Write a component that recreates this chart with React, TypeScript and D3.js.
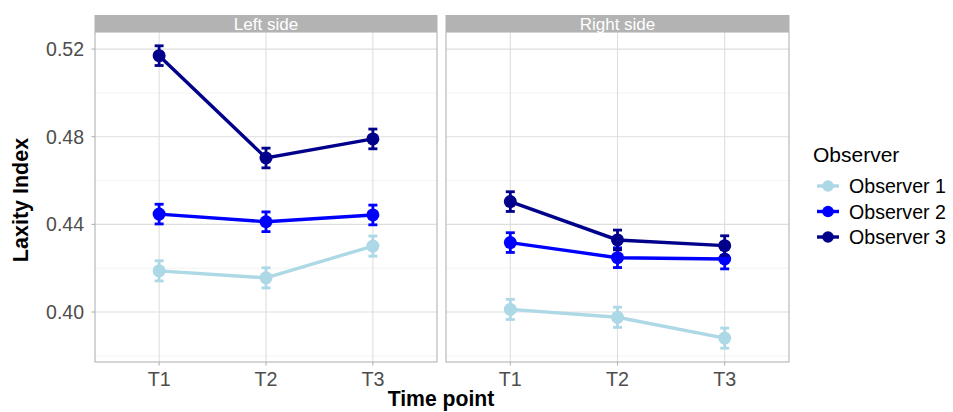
import React from 'react';
import * as d3 from 'd3';

const width = 953;
const height = 412;
const font = '"Liberation Sans", Arial, Helvetica, sans-serif';

const sides = ['Left side', 'Right side'];
const timePoints = ['T1', 'T2', 'T3'];
const observers = ['Observer 1', 'Observer 2', 'Observer 3'];
const colors = ['#ADD8E6', '#0000FF', '#00008B'];
const yTicks = [0.40, 0.44, 0.48, 0.52];
const yMinor = [0.38, 0.42, 0.46, 0.50];

// mean per observer, per time point
const leftMeans = [
  [0.4188, 0.4156, 0.4301],
  [0.4447, 0.4412, 0.4443],
  [0.517, 0.4703, 0.479],
];
const rightMeans = [
  [0.4012, 0.3976, 0.3881],
  [0.4317, 0.4248, 0.4242],
  [0.4504, 0.4329, 0.4303],
];
const leftSE = [
  [0.0046, 0.0046, 0.0046],
  [0.0045, 0.0045, 0.0045],
  [0.0045, 0.0045, 0.0045],
];
const rightSE = [
  [0.0046, 0.0046, 0.0046],
  [0.0045, 0.0045, 0.0045],
  [0.0045, 0.0045, 0.0045],
];

const panels = [
  { x0: 95, x1: 437, means: leftMeans, se: leftSE },
  { x0: 446, x1: 789, means: rightMeans, se: rightSE },
];
const stripTop = 15;
const panelTop = 32;
const panelBottom = 362;

const yScale = d3.scaleLinear().domain([0.3772, 0.5278]).range([panelBottom, panelTop]);

export default function App() {
  return (
    <svg width={width} height={height} style={{ display: 'block', position: 'absolute', left: 0, top: 0 }} fontFamily={font}>
      <rect width={width} height={height} fill="#fff" />
      {panels.map((p, pi) => {
        const xScale = d3.scalePoint<string>().domain(timePoints).range([p.x0, p.x1]).padding(0.6);
        const line = d3.line<number>().x((_, i) => xScale(timePoints[i]) as number).y(d => yScale(d));
        return (
          <g key={pi}>
            {yMinor.map(v => (
              <line key={'m' + v} x1={p.x0} x2={p.x1} y1={yScale(v)} y2={yScale(v)} stroke="#ebebeb" strokeWidth={0.6} />
            ))}
            {yTicks.map(v => (
              <line key={'M' + v} x1={p.x0} x2={p.x1} y1={yScale(v)} y2={yScale(v)} stroke="#dedede" strokeWidth={1.1} />
            ))}
            {timePoints.map(t => (
              <line key={t} x1={xScale(t)} x2={xScale(t)} y1={panelTop} y2={panelBottom} stroke="#dedede" strokeWidth={1.1} />
            ))}
            <rect x={p.x0} y={panelTop} width={p.x1 - p.x0} height={panelBottom - panelTop} fill="none" stroke="#b3b3b3" strokeWidth={1.1} />
            <rect x={p.x0 - 0.5} y={stripTop} width={p.x1 - p.x0 + 1} height={panelTop - stripTop} fill="#b3b3b3" />
            <text x={(p.x0 + p.x1) / 2} y={30} textAnchor="middle" fill="#fff" fontSize={17}>{sides[pi]}</text>
            {timePoints.map(t => (
              <g key={'x' + t}>
                <line x1={xScale(t)} x2={xScale(t)} y1={panelBottom} y2={panelBottom + 3.5} stroke="#b3b3b3" strokeWidth={1.1} />
                <text x={xScale(t)} y={386} textAnchor="middle" fill="#4d4d4d" fontSize={19.7}>{t}</text>
              </g>
            ))}
            {p.means.map((series, oi) => (
              <g key={oi}>
                <path d={line(series) ?? ''} fill="none" stroke={colors[oi]} strokeWidth={3.4} />
                {series.map((v, i) => {
                  const x = xScale(timePoints[i]) as number;
                  const e = p.se[oi][i];
                  return (
                    <g key={i}>
                      <line x1={x} x2={x} y1={yScale(v - e)} y2={yScale(v + e)} stroke={colors[oi]} strokeWidth={2.8} />
                      <line x1={x - 4.5} x2={x + 4.5} y1={yScale(v - e)} y2={yScale(v - e)} stroke={colors[oi]} strokeWidth={2.8} />
                      <line x1={x - 4.5} x2={x + 4.5} y1={yScale(v + e)} y2={yScale(v + e)} stroke={colors[oi]} strokeWidth={2.8} />
                      <circle cx={x} cy={yScale(v)} r={6.5} fill={colors[oi]} />
                    </g>
                  );
                })}
              </g>
            ))}
          </g>
        );
      })}
      {yTicks.map(v => (
        <g key={v}>
          <line x1={91.5} x2={95} y1={yScale(v)} y2={yScale(v)} stroke="#b3b3b3" strokeWidth={1.1} />
          <text x={84} y={yScale(v) + 7} textAnchor="end" fill="#4d4d4d" fontSize={19.5}>{v.toFixed(2)}</text>
        </g>
      ))}
      <text transform={`translate(28, ${(panelTop + panelBottom) / 2 + 3}) rotate(-90)`} textAnchor="middle" fontWeight="bold" fontSize={21.5} fill="#000">Laxity Index</text>
      <text x={441} y={406} textAnchor="middle" fontWeight="bold" fontSize={21.2} fill="#000">Time point</text>
      <g>
        <text x={813} y={162} fontSize={21} fill="#000">Observer</text>
        {observers.map((o, i) => {
          const y = 186 + i * 25.5;
          return (
            <g key={o}>
              <line x1={817} x2={839} y1={y} y2={y} stroke={colors[i]} strokeWidth={3.4} />
              <line x1={828} x2={828} y1={y - 4.5} y2={y + 4.5} stroke={colors[i]} strokeWidth={2.8} />
              <circle cx={828} cy={y} r={5.8} fill={colors[i]} />
              <text x={849} y={y + 7} fontSize={19.6} fill="#000">{o}</text>
            </g>
          );
        })}
      </g>
    </svg>
  );
}
